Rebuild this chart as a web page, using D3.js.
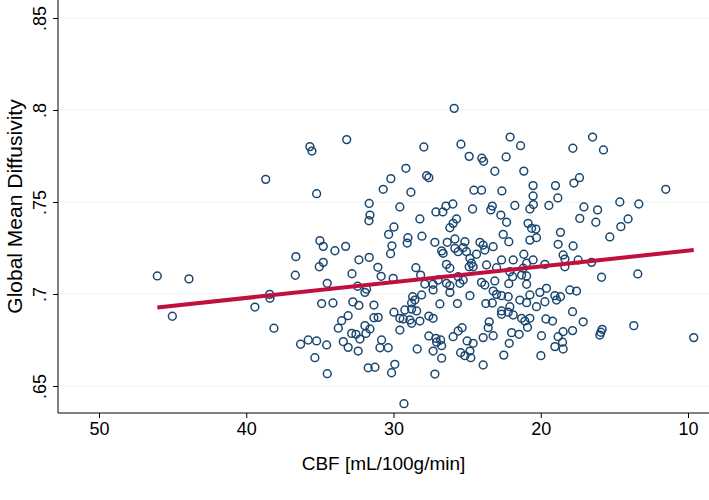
<!DOCTYPE html>
<html><head><meta charset="utf-8">
<script src="https://cdn.jsdelivr.net/npm/d3@7/dist/d3.min.js"></script>
<style>body{margin:0;background:#fff}svg{display:block}</style>
</head><body><svg id="c" width="709" height="500"></svg>
<script>
const xTicks=[50,40,30,20,10];
const xTickLabels=["50","40","30","20","10"];
const yTicks=[0.65,0.7,0.75,0.8,0.85];
const yTickLabels=[".65",".7",".75",".8",".85"];
const xTitle="CBF [mL/100g/min]";
const yTitle="Global Mean Diffusivity";
const cbf=[38.68,35.68,35.54,33.18,35.22,27.94,29.16,30.18,30.70,28.82,
31.65,27.75,27.60,29.57,25.88,25.42,24.86,24.00,23.88,23.12,
22.35,22.08,21.37,21.15,24.54,24.02,22.64,20.52,20.52,19.00,
18.84,17.82,17.75,26.44,26.65,27.12,25.97,24.63,23.39,23.29,
21.76,20.74,20.50,19.45,16.48,15.74,17.37,11.51,14.63,13.34,
17.07,16.14,46.04,43.89,38.41,38.39,39.41,31.60,31.67,28.21,
29.97,30.33,29.02,29.07,28.07,35.00,34.77,33.98,33.25,30.11,
30.20,36.63,31.65,32.35,34.77,35.04,31.06,28.48,32.82,36.67,
30.84,30.02,28.16,27.87,34.50,32.44,31.83,31.94,28.09,28.70,
28.55,34.88,34.11,32.76,32.35,31.33,28.77,22.71,22.32,25.72,
25.95,26.17,20.86,20.62,20.33,18.66,22.55,20.74,20.29,22.17,
25.83,26.35,25.15,27.19,24.13,23.91,26.73,26.63,25.83,25.61,
25.27,25.04,24.81,24.36,23.80,23.23,18.82,21.15,18.48,18.36,
22.66,21.87,20.52,19.72,18.36,26.40,26.17,24.70,24.59,24.86,
23.68,23.00,20.96,21.19,22.10,21.91,21.30,20.96,25.61,25.27,
26.97,27.31,26.40,26.17,25.49,24.02,23.80,23.12,22.17,20.96,
27.31,26.17,24.81,23.23,23.00,22.66,22.21,21.42,20.74,20.06,
19.61,19.04,18.66,18.93,26.85,25.66,23.73,23.29,22.10,20.96,
20.29,19.72,14.07,17.35,16.26,14.56,15.31,17.80,17.46,16.55,
15.87,13.41,18.02,17.57,45.02,38.12,29.97,29.23,28.77,28.43,
33.08,33.52,33.75,31.33,31.04,29.57,29.34,28.89,28.77,28.21,
27.60,31.94,31.60,31.87,32.84,32.55,32.28,29.57,36.31,35.79,
35.22,34.54,33.41,33.08,32.40,30.81,30.92,30.36,28.39,27.60,
35.34,31.72,31.26,29.91,30.13,34.50,29.29,22.66,22.66,22.21,
21.87,27.31,21.30,20.74,21.08,19.65,19.20,23.50,23.57,20.90,
25.34,25.61,25.95,23.23,23.91,21.98,21.47,19.95,18.82,18.48,
27.12,26.80,27.07,26.73,25.00,24.59,22.14,19.04,18.52,18.48,
27.31,25.44,24.81,25.15,24.75,26.73,22.51,19.99,23.91,27.19,
17.84,17.12,17.84,15.83,15.92,15.99,13.68,9.61];
const md=[.7623,.7801,.7777,.7839,.7545,.7799,.7683,.7627,.7569,.7553,
.7492,.7643,.7632,.7473,.8009,.7814,.7748,.7738,.7721,.7667,
.7745,.7853,.7806,.7668,.7564,.7564,.7560,.7589,.7533,.7589,
.7522,.7792,.7603,.7478,.7446,.7446,.7489,.7462,.7457,.7478,
.7481,.7462,.7486,.7481,.7853,.7783,.7632,.7569,.7500,.7489,
.7473,.7457,.7098,.7082,.6998,.6977,.6929,.7429,.7398,.7408,
.7364,.7324,.7306,.7277,.7314,.7290,.7259,.7235,.7259,.7262,
.7219,.7203,.7199,.7186,.7172,.7148,.7145,.7143,.7110,.7102,
.7096,.7085,.7103,.7054,.7058,.7042,.7026,.7009,.6995,.6985,
.6967,.6948,.6951,.6957,.6938,.6940,.6951,.7429,.7390,.7408,
.7384,.7360,.7384,.7357,.7353,.7335,.7324,.7293,.7306,.7284,
.7299,.7281,.7284,.7281,.7281,.7266,.7234,.7221,.7248,.7230,
.7252,.7230,.7194,.7216,.7239,.7257,.7270,.7216,.7212,.7190,
.7185,.7185,.7185,.7161,.7148,.7161,.7140,.7167,.7148,.7148,
.7158,.7143,.7167,.7140,.7121,.7094,.7103,.7098,.7094,.7076,
.7076,.7053,.7058,.7045,.7058,.7063,.7049,.7071,.7056,.7053,
.7022,.7009,.6991,.7016,.6998,.6991,.6985,.6967,.6995,.7009,
.7031,.6991,.6985,.6967,.6946,.6948,.6948,.6951,.6931,.6953,
.6931,.6958,.7408,.7411,.7390,.7366,.7310,.7261,.7185,.7172,
.7091,.7109,.7022,.7016,.6879,.6814,.6901,.6913,.6918,.6908,
.6882,.6855,.6814,.6871,.6873,.6868,.6864,.6859,.6841,.6853,
.6880,.6828,.6810,.6786,.6786,.6781,.6755,.6804,.6727,.6750,
.6745,.6723,.6741,.6710,.6690,.6750,.6708,.6708,.6701,.6772,
.6654,.6599,.6602,.6618,.6572,.6567,.6404,.6908,.6890,.6901,
.6886,.6868,.6868,.6868,.6853,.6864,.6853,.6849,.6817,.6819,
.6817,.6799,.6768,.6773,.6763,.6790,.6781,.6773,.6768,.6795,
.6759,.6750,.6738,.6719,.6745,.6732,.6732,.6714,.6738,.6701,
.6690,.6681,.6690,.6665,.6654,.6651,.6668,.6665,.6614,.6565,
.6904,.6849,.6801,.6808,.6792,.6777,.6828,.6763];
const fitX=[46.04,9.61];
const fitY=[0.6927,0.7239];

const svg=d3.select("#c");
const font="'Liberation Sans', Arial, Helvetica, sans-serif";
const L=58, R=709, T=0, B=413;
const x=d3.scaleLinear().domain([50,10]).range([99,688]);
const y=d3.scaleLinear().domain([0.65,0.85]).range([386,18]);

// gridlines
svg.append("g").selectAll("line").data(yTicks).join("line")
  .attr("x1",L).attr("x2",R).attr("y1",d=>y(d)).attr("y2",d=>y(d))
  .attr("stroke","#eaf2f3").attr("stroke-width",1.2);

// axes
const xa=svg.append("g").attr("transform",`translate(0,${B})`)
  .call(d3.axisBottom(x).tickValues(xTicks).tickFormat((d,i)=>xTickLabels[i]).tickSize(5).tickPadding(4));
xa.select(".domain").attr("d",`M${L},0H${R}`).attr("stroke","#000");
const ya=svg.append("g").attr("transform",`translate(${L},0)`)
  .call(d3.axisLeft(y).tickValues(yTicks).tickFormat((d,i)=>yTickLabels[i]).tickSize(5).tickPadding(4));
ya.select(".domain").attr("d",`M0,${T}V${B}`).attr("stroke","#000");
svg.selectAll(".tick line").attr("stroke","#000");
svg.selectAll(".tick text").attr("font-family",font).attr("font-size",18).attr("fill","#000");
ya.selectAll(".tick text").attr("text-anchor","middle").attr("x",0).attr("dy",0)
  .attr("transform","translate(-12,0) rotate(-90)");

// points
svg.append("g").selectAll("circle").data(cbf).join("circle")
  .attr("cx",(d)=>x(d)).attr("cy",(d,i)=>y(md[i])).attr("r",3.9)
  .attr("fill","none").attr("stroke","#1a476f").attr("stroke-width",1.5);

// fit line
svg.append("line").attr("x1",x(fitX[0])).attr("x2",x(fitX[1]))
  .attr("y1",y(fitY[0])).attr("y2",y(fitY[1]))
  .attr("stroke","#c10f3e").attr("stroke-width",4);

// titles
svg.append("text").attr("x",(L+R)/2).attr("y",470).attr("text-anchor","middle")
  .attr("font-family",font).attr("font-size",19).text(xTitle);
svg.append("text").attr("transform",`translate(22,${(T+B)/2}) rotate(-90)`).attr("text-anchor","middle")
  .attr("font-family",font).attr("font-size",21).text(yTitle);
</script></body></html>
